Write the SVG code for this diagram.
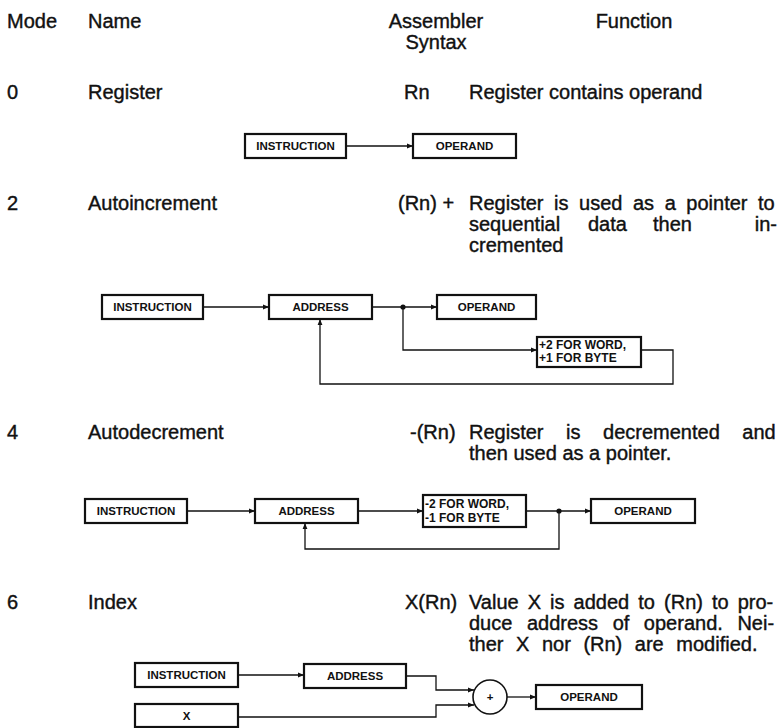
<svg xmlns="http://www.w3.org/2000/svg" width="782" height="728" viewBox="0 0 782 728">
<defs>
<style>
.t{font-family:"Liberation Sans",Arial,sans-serif;font-size:20px;fill:#111;stroke:#111;stroke-width:0.4}
.m{text-anchor:middle}
.e{text-anchor:end}
.b{fill:#fff;stroke:#111;stroke-width:2.2}
.l{font-family:"Liberation Sans",Arial,sans-serif;font-size:11.5px;font-weight:bold;fill:#111}
.s{font-family:"Liberation Sans",Arial,sans-serif;font-size:12px;font-weight:bold;fill:#111}
.c{fill:none;stroke:#111;stroke-width:1.3}
.d{fill:#111}
</style>
<marker id="a" viewBox="0 0 10 10" refX="10" refY="5" markerWidth="8" markerHeight="6" markerUnits="userSpaceOnUse" orient="auto"><path d="M0,1 L10,5 L0,9 z" fill="#111"/></marker>
</defs>
<rect width="782" height="728" fill="#fff"/>

<g id="header">
<text class="t" x="7" y="28">Mode</text>
<text class="t" x="88" y="28">Name</text>
<text class="t m" x="436" y="28">Assembler</text>
<text class="t m" x="436" y="49">Syntax</text>
<text class="t m" x="634" y="28">Function</text>
</g>

<g id="row0-text">
<text class="t" x="7" y="99">0</text>
<text class="t" x="88" y="99">Register</text>
<text class="t" x="404" y="99">Rn</text>
<text class="t" x="469" y="99">Register contains operand</text>
</g>

<g id="row2-text">
<text class="t" x="7" y="210">2</text>
<text class="t" x="88" y="210">Autoincrement</text>
<text class="t" x="398" y="210">(Rn) +</text>
<text class="t" x="469" y="210" style="word-spacing:5px">Register is used as a pointer to</text>
<text class="t" x="469" y="231">sequential</text>
<text class="t" x="588" y="231">data</text>
<text class="t" x="653" y="231">then</text>
<text class="t e" x="777" y="231">in-</text>
<text class="t" x="469" y="252">cremented</text>
</g>

<g id="row4-text">
<text class="t" x="7" y="439">4</text>
<text class="t" x="88" y="439">Autodecrement</text>
<text class="t" x="410" y="439">-(Rn)</text>
<text class="t" x="469" y="439" style="word-spacing:17px">Register is decremented and</text>
<text class="t" x="469" y="460">then used as a pointer.</text>
</g>

<g id="row6-text">
<text class="t" x="7" y="609">6</text>
<text class="t" x="88" y="609">Index</text>
<text class="t" x="405" y="609">X(Rn)</text>
<text class="t" x="469" y="609" style="word-spacing:3.5px">Value X is added to (Rn) to pro-</text>
<text class="t" x="469" y="630" style="word-spacing:9px">duce address of operand. Nei-</text>
<text class="t" x="469" y="651" style="word-spacing:7px">ther X nor (Rn) are modified.</text>
</g>

<g id="m0-instruction"><rect class="b" x="245" y="134" width="101" height="24"/><text class="l m" x="295.5" y="150">INSTRUCTION</text></g>
<g id="m0-operand"><rect class="b" x="413" y="134" width="103" height="24"/><text class="l m" x="464.5" y="150">OPERAND</text></g>

<g id="m2-instruction"><rect class="b" x="102" y="295" width="101" height="24"/><text class="l m" x="152.5" y="311">INSTRUCTION</text></g>
<g id="m2-address"><rect class="b" x="269" y="295" width="103" height="24"/><text class="l m" x="320.5" y="311">ADDRESS</text></g>
<g id="m2-operand"><rect class="b" x="437" y="295" width="99" height="24"/><text class="l m" x="486.5" y="311">OPERAND</text></g>
<g id="m2-inc"><rect class="b" x="537" y="337" width="104" height="30"/><text class="s" x="539" y="349">+2 FOR  WORD,</text><text class="s" x="539" y="362">+1 FOR  BYTE</text></g>

<g id="m4-instruction"><rect class="b" x="85" y="499" width="102" height="24"/><text class="l m" x="136" y="515">INSTRUCTION</text></g>
<g id="m4-address"><rect class="b" x="255" y="499" width="103" height="24"/><text class="l m" x="306.5" y="515">ADDRESS</text></g>
<g id="m4-dec"><rect class="b" x="423" y="495" width="103" height="32"/><text class="s" x="425" y="508">-2 FOR WORD,</text><text class="s" x="425" y="522">-1 FOR BYTE</text></g>
<g id="m4-operand"><rect class="b" x="591" y="499" width="104" height="24"/><text class="l m" x="643" y="515">OPERAND</text></g>

<g id="m6-instruction"><rect class="b" x="135" y="663" width="103" height="24"/><text class="l m" x="186.5" y="679">INSTRUCTION</text></g>
<g id="m6-address"><rect class="b" x="304" y="664" width="102" height="24"/><text class="l m" x="355" y="680">ADDRESS</text></g>
<g id="m6-x"><rect class="b" x="135" y="704" width="103" height="23"/><text class="l m" x="186.5" y="720">X</text></g>
<g id="m6-plus"><circle cx="490" cy="697" r="17" fill="#fff" stroke="#111" stroke-width="1.6"/><text class="l m" x="490" y="701">+</text></g>
<g id="m6-operand"><rect class="b" x="536" y="685" width="106" height="24"/><text class="l m" x="589" y="701">OPERAND</text></g>

<g id="connectors">
<path class="c" d="M346,146 H413" marker-end="url(#a)"/>

<path class="c" d="M203,307 H269" marker-end="url(#a)"/>
<path class="c" d="M372,307 H437" marker-end="url(#a)"/>
<path class="c" d="M403,307 V350 H537" marker-end="url(#a)"/>
<path class="c" d="M641,350 H673 V384 H320 V319" marker-end="url(#a)"/>
<circle class="d" cx="403" cy="307" r="2.6"/>

<path class="c" d="M187,511 H255" marker-end="url(#a)"/>
<path class="c" d="M358,511 H423" marker-end="url(#a)"/>
<path class="c" d="M526,511 H591" marker-end="url(#a)"/>
<path class="c" d="M559,511 V549 H305 V523" marker-end="url(#a)"/>
<circle class="d" cx="559" cy="511" r="2.6"/>

<path class="c" d="M238,675 H304" marker-end="url(#a)"/>
<path class="c" d="M406,676 H436 V690 H474" marker-end="url(#a)"/>
<path class="c" d="M238,717 H436 V705 H474" marker-end="url(#a)"/>
<path class="c" d="M507,697 H536" marker-end="url(#a)"/>
</g>
</svg>
